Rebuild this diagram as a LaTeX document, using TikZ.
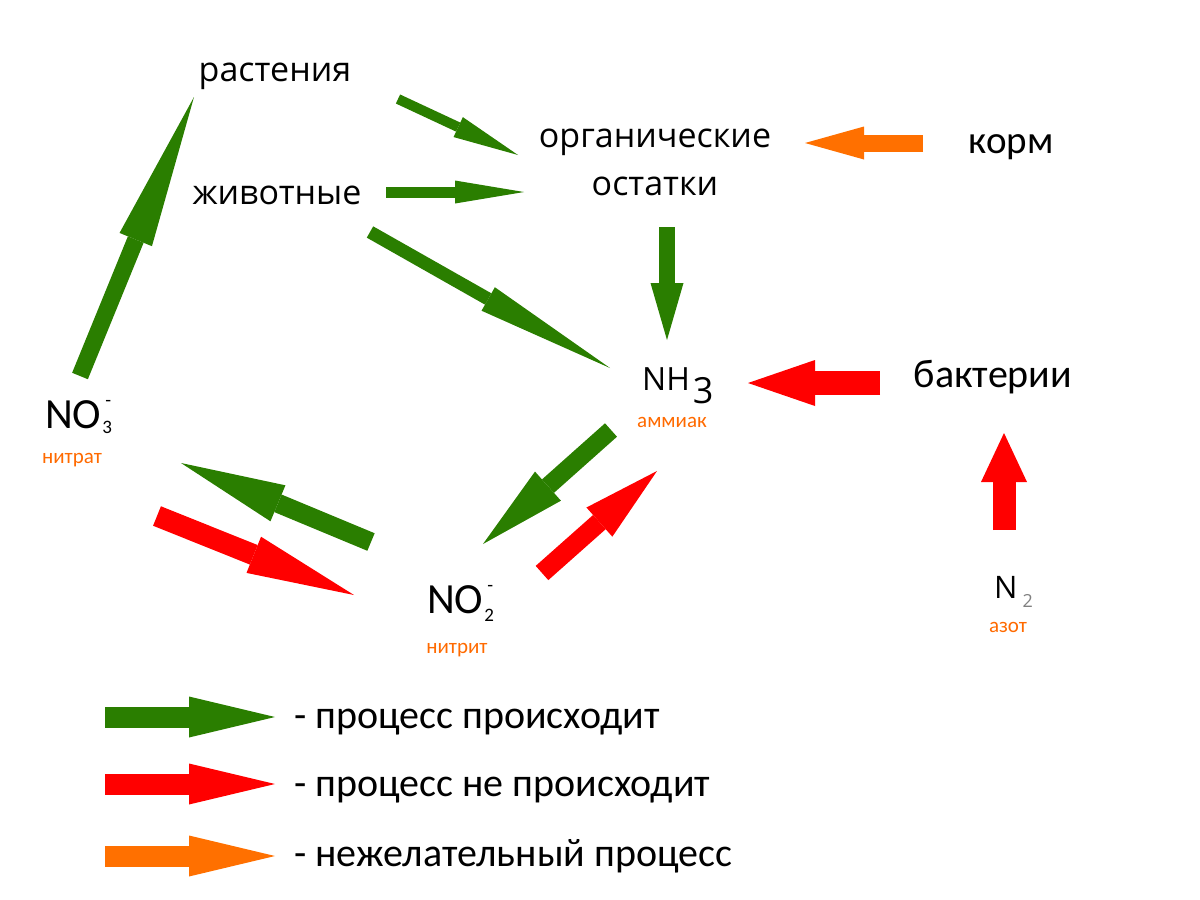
\documentclass[tikz,border=0pt]{standalone}
\usepackage{fontspec}
\setmainfont{Carlito}
\newfontfamily\opensans{Open Sans}
\usetikzlibrary{arrows.meta,positioning}
\definecolor{okgreen}{HTML}{2A7E00}
\definecolor{nored}{HTML}{FF0000}
\definecolor{warnorange}{HTML}{FF7000}
\definecolor{noteorange}{HTML}{FF6A00}
\newcommand\ionlabel[3]{#1\kern1pt\rlap{\raisebox{-#3pt}{\fontsize{19}{19}\selectfont #2}}\kern3pt\raisebox{22pt}{\fontsize{19}{19}\selectfont -}}
\tikzset{
x=1pt, y=-1pt, % pixel coordinates of the picture
flow/.style n args={3}{line width=#1pt, -{Triangle[length=#2pt, width=#3pt, line width'=0pt]}}, % block arrow: shaft, head length, head width
word/.style={font=\opensans\fontsize{34}{48}\selectfont, inner sep=0pt, anchor=base, align=center}, % big labels
plain/.style={font=\fontsize{39}{44}\selectfont, inner sep=0pt, anchor=base}, % Calibri labels
chem/.style={inner sep=0pt, anchor=base west}, % formulas
small/.style={font=\fontsize{21}{24}\selectfont, text=noteorange, inner sep=0pt, anchor=base}, % orange names
}

\begin{document}
\begin{tikzpicture}
\useasboundingbox (0,0) rectangle (1200,900);

\node[word] (plants) at (275,81) {растения};
\node[word] (animals) at (277,204) {животные};
\node[word] (organic) at (655,195) {органические\\остатки};
\node[plain] (feed) at (1011,153) {корм};
\node[plain, font=\fontsize{40}{44}\selectfont] (bact) at (993,387) {бактерии};

\node[chem, font=\opensans\fontsize{32}{34}\selectfont] (nh3) at (642,390) {NH\kern3pt\raisebox{-13pt}{\fontsize{36}{36}\selectfont 3}};
\node[small] (nh3n) at (672,427) {аммиак};
\node[chem, font=\fontsize{43}{46}\selectfont] (no3) at (45,428) {\ionlabel{NO}{3}{5}};
\node[small] (no3n) at (72,463) {нитрат};
\node[chem, font=\fontsize{43}{46}\selectfont] (no2) at (427,613) {\ionlabel{NO}{2}{8}};
\node[small] (no2n) at (457,653) {нитрит};
\node[chem, font=\opensans\fontsize{31}{34}\selectfont] (n2) at (994,598) {N\kern5pt\raisebox{-9pt}{\color{gray}\fontsize{18}{18}\selectfont 2}};
\node[small] (n2n) at (1008,632) {азот};

% free ends of the arrows
\coordinate (a1) at (80,376);   \coordinate (b1) at (194,97);
\coordinate (a2) at (398,99);   \coordinate (b2) at (518,155);
\coordinate (a3) at (386,192);  \coordinate (b3) at (524,192);
\coordinate (a4) at (370,232);  \coordinate (b4) at (610,368);
\coordinate (a5) at (667,227);  \coordinate (b5) at (667,340);
\coordinate (a6) at (923,143);  \coordinate (b6) at (805,143);
\coordinate (a7) at (880,383);  \coordinate (b7) at (748,383);
\coordinate (a8) at (1004,530); \coordinate (b8) at (1004,433);
\coordinate (a9) at (611,430);  \coordinate (b9) at (483,544);
\coordinate (a10) at (542,573); \coordinate (b10) at (657,471);
\coordinate (a11) at (371,542); \coordinate (b11) at (181,463);
\coordinate (a12) at (157,516); \coordinate (b12) at (354,595);

\draw[okgreen]
(a1) edge[flow={17}{154}{35}] (b1)
(a2) edge[flow={10}{66}{22}] (b2)
(a3) edge[flow={11}{69}{23}] (b3)
(a4) edge[flow={13}{140}{27}] (b4)
(a5) edge[flow={16}{57}{33}] (b5)
(a9) edge[flow={18}{87}{39}] (b9)
(a11) edge[flow={19}{105}{39}] (b11);
\draw[nored]
(a7) edge[flow={24}{67}{46}] (b7)
(a8) edge[flow={23}{49}{46}] (b8)
(a10) edge[flow={19}{77}{39}] (b10)
(a12) edge[flow={21}{108}{39}] (b12);
\draw[warnorange]
(a6) edge[flow={17}{59}{33}] (b6);

% legend
\coordinate (k1) at (105,717); \coordinate (l1) at (275,717);
\coordinate (k2) at (105,784); \coordinate (l2) at (275,784);
\coordinate (k3) at (105,856); \coordinate (l3) at (275,856);
\draw[okgreen] (k1) edge[flow={21}{86}{41}] (l1);
\draw[nored] (k2) edge[flow={21}{86}{41}] (l2);
\draw[warnorange] (k3) edge[flow={21}{86}{41}] (l3);
\node[plain, font=\fontsize{40}{44}\selectfont, anchor=base west] (t1) at (294,728) {- процесс происходит};
\node[plain, font=\fontsize{40}{44}\selectfont, anchor=base west] (t2) at (294,796) {- процесс не происходит};
\node[plain, font=\fontsize{40}{44}\selectfont, anchor=base west] (t3) at (294,866) {- нежелательный процесс};

\end{tikzpicture}
\end{document}
